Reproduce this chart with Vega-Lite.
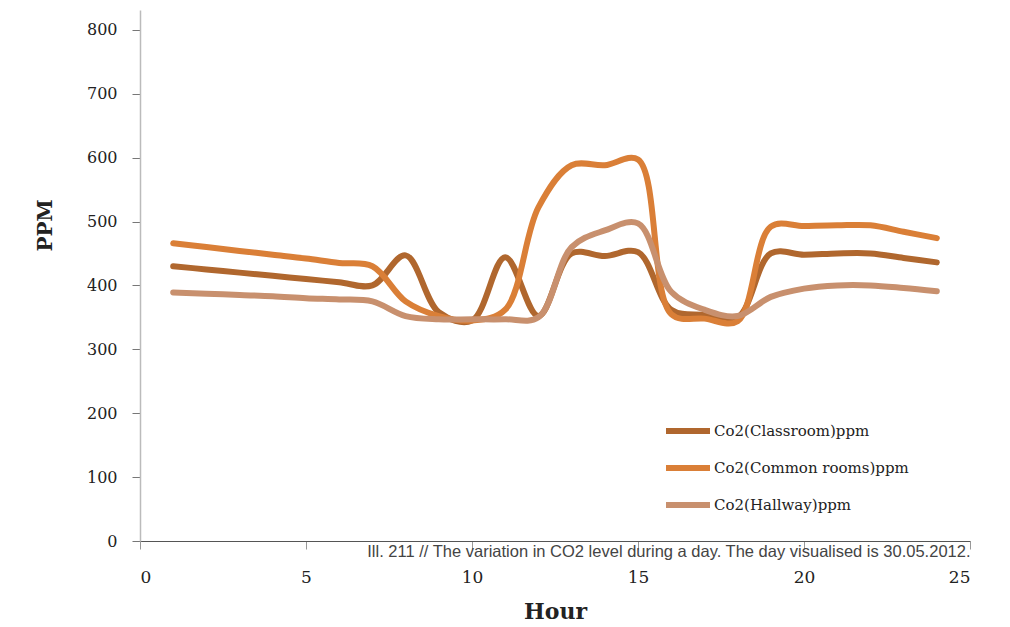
{
  "$schema": "https://vega.github.io/schema/vega-lite/v6.json",
  "width": 830,
  "height": 531,
  "autosize": {"type": "none"},
  "padding": {"left": 140, "top": 10, "right": 40, "bottom": 86},
  "background": "white",
  "config": {"view": {"stroke": null}},
  "title": {
    "text": "Ill. 211 // The variation in CO2 level during a day. The day visualised is 30.05.2012.",
    "orient": "bottom",
    "anchor": "end",
    "offset": -78,
    "font": "Liberation Sans",
    "fontSize": 16.5,
    "fontWeight": "normal",
    "color": "#444444"
  },
  "data": {
    "values": [
      {"hour": 1, "series": "Co2(Classroom)ppm", "ppm": 430},
      {"hour": 2, "series": "Co2(Classroom)ppm", "ppm": 425},
      {"hour": 3, "series": "Co2(Classroom)ppm", "ppm": 420},
      {"hour": 4, "series": "Co2(Classroom)ppm", "ppm": 415},
      {"hour": 5, "series": "Co2(Classroom)ppm", "ppm": 410},
      {"hour": 6, "series": "Co2(Classroom)ppm", "ppm": 405},
      {"hour": 7, "series": "Co2(Classroom)ppm", "ppm": 400},
      {"hour": 8, "series": "Co2(Classroom)ppm", "ppm": 447},
      {"hour": 9, "series": "Co2(Classroom)ppm", "ppm": 358},
      {"hour": 10, "series": "Co2(Classroom)ppm", "ppm": 345},
      {"hour": 11, "series": "Co2(Classroom)ppm", "ppm": 444},
      {"hour": 12, "series": "Co2(Classroom)ppm", "ppm": 352},
      {"hour": 13, "series": "Co2(Classroom)ppm", "ppm": 450},
      {"hour": 14, "series": "Co2(Classroom)ppm", "ppm": 446},
      {"hour": 15, "series": "Co2(Classroom)ppm", "ppm": 452},
      {"hour": 16, "series": "Co2(Classroom)ppm", "ppm": 362},
      {"hour": 17, "series": "Co2(Classroom)ppm", "ppm": 354},
      {"hour": 18, "series": "Co2(Classroom)ppm", "ppm": 350},
      {"hour": 19, "series": "Co2(Classroom)ppm", "ppm": 450},
      {"hour": 20, "series": "Co2(Classroom)ppm", "ppm": 448},
      {"hour": 21, "series": "Co2(Classroom)ppm", "ppm": 450},
      {"hour": 22, "series": "Co2(Classroom)ppm", "ppm": 450},
      {"hour": 23, "series": "Co2(Classroom)ppm", "ppm": 443},
      {"hour": 24, "series": "Co2(Classroom)ppm", "ppm": 436},
      {"hour": 1, "series": "Co2(Common rooms)ppm", "ppm": 466},
      {"hour": 2, "series": "Co2(Common rooms)ppm", "ppm": 460},
      {"hour": 3, "series": "Co2(Common rooms)ppm", "ppm": 454},
      {"hour": 4, "series": "Co2(Common rooms)ppm", "ppm": 448},
      {"hour": 5, "series": "Co2(Common rooms)ppm", "ppm": 442},
      {"hour": 6, "series": "Co2(Common rooms)ppm", "ppm": 435},
      {"hour": 7, "series": "Co2(Common rooms)ppm", "ppm": 430},
      {"hour": 8, "series": "Co2(Common rooms)ppm", "ppm": 375},
      {"hour": 9, "series": "Co2(Common rooms)ppm", "ppm": 352},
      {"hour": 10, "series": "Co2(Common rooms)ppm", "ppm": 345},
      {"hour": 11, "series": "Co2(Common rooms)ppm", "ppm": 362},
      {"hour": 12, "series": "Co2(Common rooms)ppm", "ppm": 522},
      {"hour": 13, "series": "Co2(Common rooms)ppm", "ppm": 588},
      {"hour": 14, "series": "Co2(Common rooms)ppm", "ppm": 588},
      {"hour": 15, "series": "Co2(Common rooms)ppm", "ppm": 597},
      {"hour": 16, "series": "Co2(Common rooms)ppm", "ppm": 355},
      {"hour": 17, "series": "Co2(Common rooms)ppm", "ppm": 348},
      {"hour": 18, "series": "Co2(Common rooms)ppm", "ppm": 344},
      {"hour": 19, "series": "Co2(Common rooms)ppm", "ppm": 492},
      {"hour": 20, "series": "Co2(Common rooms)ppm", "ppm": 493},
      {"hour": 21, "series": "Co2(Common rooms)ppm", "ppm": 494},
      {"hour": 22, "series": "Co2(Common rooms)ppm", "ppm": 494},
      {"hour": 23, "series": "Co2(Common rooms)ppm", "ppm": 484},
      {"hour": 24, "series": "Co2(Common rooms)ppm", "ppm": 474},
      {"hour": 1, "series": "Co2(Hallway)ppm", "ppm": 389},
      {"hour": 2, "series": "Co2(Hallway)ppm", "ppm": 387},
      {"hour": 3, "series": "Co2(Hallway)ppm", "ppm": 385},
      {"hour": 4, "series": "Co2(Hallway)ppm", "ppm": 383},
      {"hour": 5, "series": "Co2(Hallway)ppm", "ppm": 380},
      {"hour": 6, "series": "Co2(Hallway)ppm", "ppm": 378},
      {"hour": 7, "series": "Co2(Hallway)ppm", "ppm": 375},
      {"hour": 8, "series": "Co2(Hallway)ppm", "ppm": 352},
      {"hour": 9, "series": "Co2(Hallway)ppm", "ppm": 347},
      {"hour": 10, "series": "Co2(Hallway)ppm", "ppm": 347},
      {"hour": 11, "series": "Co2(Hallway)ppm", "ppm": 347},
      {"hour": 12, "series": "Co2(Hallway)ppm", "ppm": 350},
      {"hour": 13, "series": "Co2(Hallway)ppm", "ppm": 460},
      {"hour": 14, "series": "Co2(Hallway)ppm", "ppm": 486},
      {"hour": 15, "series": "Co2(Hallway)ppm", "ppm": 497},
      {"hour": 16, "series": "Co2(Hallway)ppm", "ppm": 390},
      {"hour": 17, "series": "Co2(Hallway)ppm", "ppm": 362},
      {"hour": 18, "series": "Co2(Hallway)ppm", "ppm": 352},
      {"hour": 19, "series": "Co2(Hallway)ppm", "ppm": 382},
      {"hour": 20, "series": "Co2(Hallway)ppm", "ppm": 395},
      {"hour": 21, "series": "Co2(Hallway)ppm", "ppm": 400},
      {"hour": 22, "series": "Co2(Hallway)ppm", "ppm": 400},
      {"hour": 23, "series": "Co2(Hallway)ppm", "ppm": 396},
      {"hour": 24, "series": "Co2(Hallway)ppm", "ppm": 391}
    ]
  },
  "mark": {"type": "line", "interpolate": "catmull-rom", "strokeWidth": 6, "strokeCap": "round", "strokeJoin": "round"},
  "encoding": {
    "x": {
      "field": "hour",
      "type": "quantitative",
      "scale": {"domain": [0, 25], "nice": false, "zero": false},
      "axis": {
        "title": "Hour",
        "values": [0, 5, 10, 15, 20, 25],
        "grid": false,
        "domainColor": "#555555",
        "domainWidth": 1.2,
        "tickColor": "#999999",
        "tickSize": 8,
        "labelPadding": 20,
        "labelFont": "DejaVu Serif",
        "labelFontSize": 17,
        "labelColor": "#222222",
        "titleFont": "DejaVu Serif",
        "titleFontSize": 22,
        "titleFontWeight": "bold",
        "titleColor": "#222222",
        "titlePadding": 16
      }
    },
    "y": {
      "field": "ppm",
      "type": "quantitative",
      "scale": {"domain": [0, 831], "nice": false},
      "axis": {
        "title": "PPM",
        "values": [0, 100, 200, 300, 400, 500, 600, 700, 800],
        "grid": false,
        "domainColor": "#bbbbbb",
        "domainWidth": 1.5,
        "tickColor": "#777777",
        "tickSize": 8,
        "labelPadding": 15,
        "labelFont": "DejaVu Serif",
        "labelFontSize": 16,
        "labelColor": "#222222",
        "titleFont": "DejaVu Serif",
        "titleFontSize": 20,
        "titleFontWeight": "bold",
        "titleColor": "#222222",
        "titleX": -95,
        "titleY": 215,
        "titleBaseline": "middle"
      }
    },
    "color": {
      "field": "series",
      "type": "nominal",
      "scale": {
        "domain": ["Co2(Classroom)ppm", "Co2(Common rooms)ppm", "Co2(Hallway)ppm"],
        "range": ["#B0672E", "#DA7F37", "#C8906E"]
      },
      "legend": {
        "title": null,
        "orient": "none",
        "legendX": 523,
        "legendY": 396,
        "symbolType": "stroke",
        "symbolSize": 1936,
        "symbolStrokeWidth": 6,
        "rowPadding": -20,
        "labelOffset": 1,
        "labelLimit": 400,
        "labelFont": "DejaVu Serif",
        "labelFontSize": 15,
        "labelColor": "#222222"
      }
    }
  }
}
